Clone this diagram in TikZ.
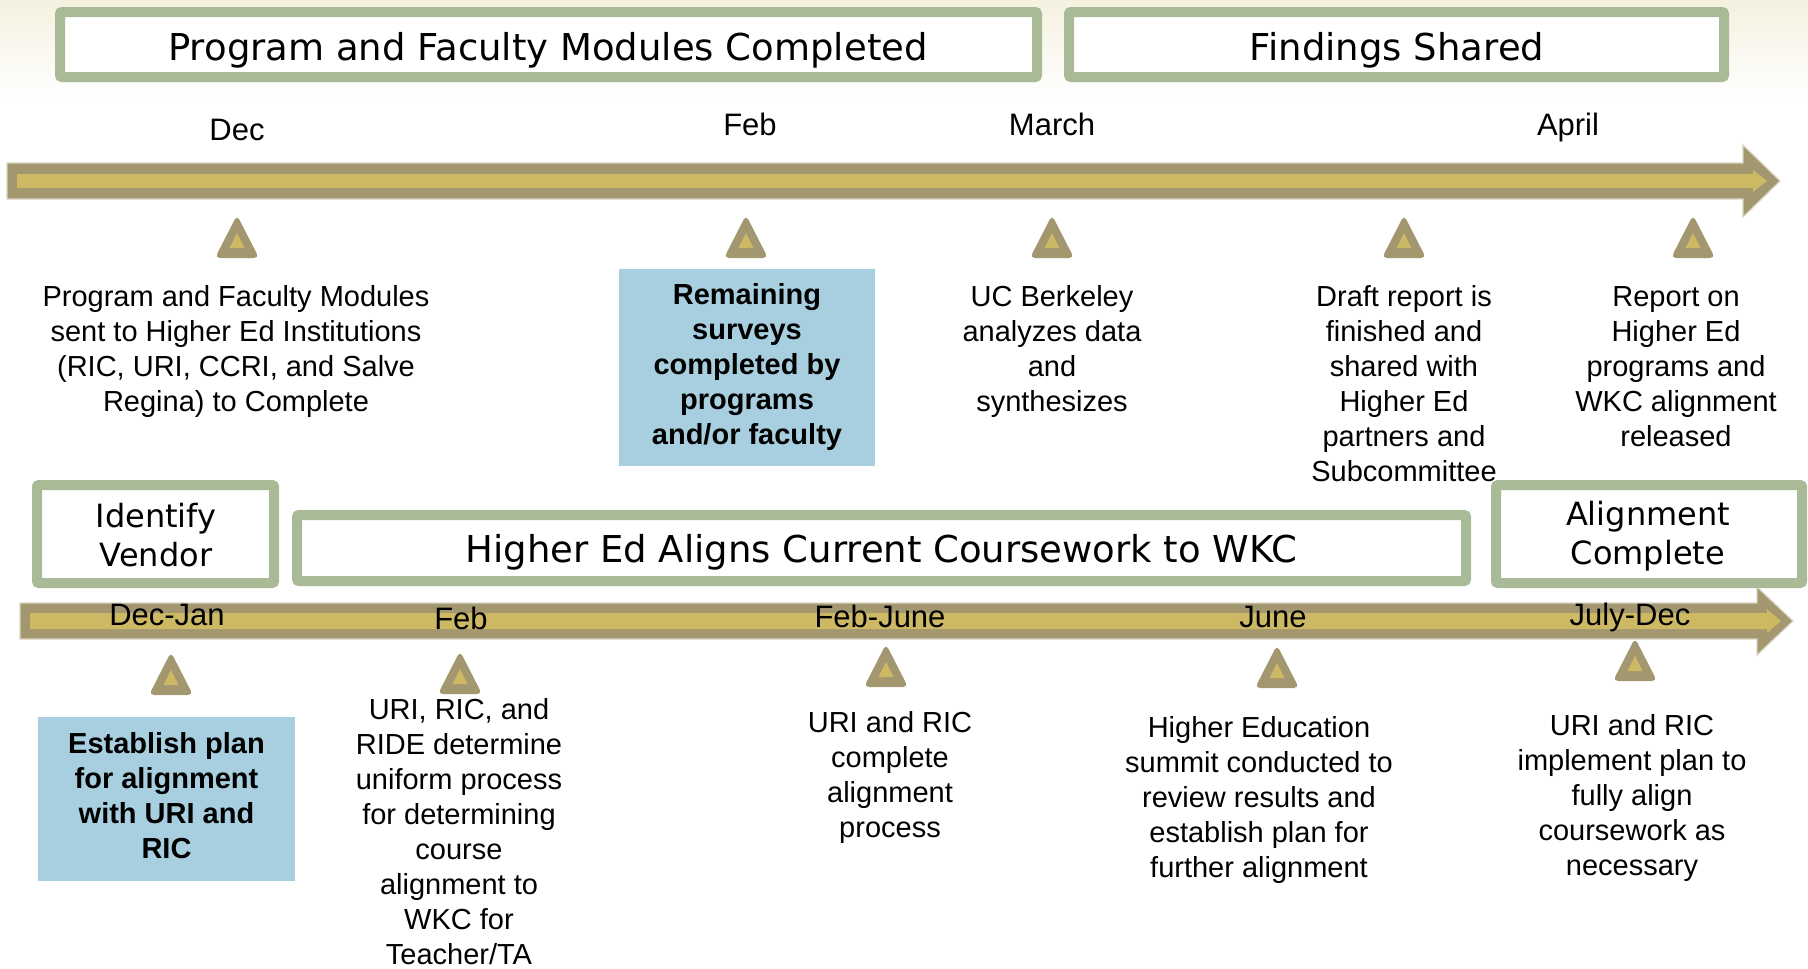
\documentclass[tikz,border=0pt]{standalone}
\usepackage{fontspec}
\setmainfont{Liberation Sans}
\newfontfamily\titlefont{DejaVu Sans}
\definecolor{boxgreen}{RGB}{169,186,151}
\definecolor{arrowdark}{RGB}{163,151,112}
\definecolor{arrowlight}{RGB}{205,184,100}
\definecolor{arrowedge}{RGB}{218,213,196}
\definecolor{boxblue}{RGB}{168,207,224}
\definecolor{cream}{RGB}{245,241,224}
\begin{document}
\begin{tikzpicture}[x=1pt,y=-1pt,
  gbox/.style={draw=boxgreen, line width=10pt, fill=white, rounded corners=2pt, inner sep=0pt},
  bluebox/.style={fill=boxblue, inner sep=0pt, align=center, font=\bfseries\fontsize{29}{35}\selectfont},
  title/.style={font=\titlefont\fontsize{37}{44}\selectfont, anchor=base, inner sep=0pt},
  subtitle/.style={font=\titlefont\fontsize{32}{39}\selectfont, align=center, anchor=north, inner sep=0pt},
  month/.style={font=\fontsize{31}{37}\selectfont, anchor=base, inner sep=0pt},
  body/.style={font=\fontsize{29}{35}\selectfont, align=center, anchor=north, inner sep=0pt},
  tmark/.pic={
    \fill[arrowdark, rounded corners=5pt] (0,-1) -- (22,42) -- (-22,42) -- cycle;
    \fill[arrowlight] (0,17) -- (7.5,32) -- (-7.5,32) -- cycle;
  }]
\useasboundingbox (0,0) rectangle (1808,969);
\fill[white] (0,0) rectangle (1808,969);
\shade[top color=cream, bottom color=white] (0,0) rectangle (1808,100);

% top timeline arrow
\fill[arrowdark, draw=arrowedge, line width=1.2pt] (7,163) -- (1743,163) -- (1743,145) -- (1780,181) -- (1743,217) -- (1743,199) -- (7,199) -- cycle;
\fill[arrowlight] (17,174) -- (1753,174) -- (1753,170) -- (1767,181) -- (1753,192) -- (1753,188) -- (17,188) -- cycle;

% bottom timeline arrow
\fill[arrowdark, draw=arrowedge, line width=1.2pt] (20,603) -- (1757,603) -- (1757,587) -- (1793,621) -- (1757,655) -- (1757,639) -- (20,639) -- cycle;
\fill[arrowlight] (30,613) -- (1767,613) -- (1767,609) -- (1781,621) -- (1767,633) -- (1767,629) -- (30,629) -- cycle;

% markers
\pic (m1) at (237,216) {tmark};
\pic (m2) at (746,216) {tmark};
\pic (m3) at (1052,216) {tmark};
\pic (m4) at (1404,216) {tmark};
\pic (m5) at (1693,216) {tmark};
\pic (n1) at (171,653) {tmark};
\pic (n2) at (460,652) {tmark};
\pic (n3) at (886,645) {tmark};
\pic (n4) at (1277,646) {tmark};
\pic (n5) at (1635,639) {tmark};

% phase boxes
\node[gbox, minimum width=977pt, minimum height=65pt] (boxmod) at (548.5,44.5) {};
\node[title] (tmod) at (548,60) {Program and Faculty Modules Completed};
\node[gbox, minimum width=655pt, minimum height=65pt] (boxfind) at (1396.5,44.5) {};
\node[title] (tfind) at (1397,60) {Findings Shared};
\node[gbox, minimum width=237pt, minimum height=98pt] (boxvendor) at (155.5,534) {};
\node[subtitle] (tvendor) at (156,499.7) {\strut Identify\\Vendor};
\node[gbox, minimum width=1169pt, minimum height=66pt] (boxalign) at (881.5,548) {};
\node[title] (talign) at (881.5,562) {Higher Ed Aligns Current Coursework to WKC};
\node[gbox, minimum width=306pt, minimum height=98pt] (boxdone) at (1649,534) {};
\node[subtitle] (tdone) at (1648,497.7) {\strut Alignment\\Complete};

% month labels
\node[month] (dec) at (237,140) {Dec};
\node[month] (feb) at (750,135) {Feb};
\node[month] (mar) at (1052,135) {March};
\node[month] (apr) at (1568,135) {April};
\node[month] (decjan) at (167,625) {Dec-Jan};
\node[month] (feb2) at (461,629) {Feb};
\node[month] (febjune) at (880,627) {Feb-June};
\node[month] (june) at (1273,627) {June};
\node[month] (julydec) at (1630,625) {July-Dec};

% top descriptions
\node[body] (dprog) at (236,281.5) {\strut Program and Faculty Modules\\sent to Higher Ed Institutions\\(RIC, URI, CCRI, and Salve\\Regina) to Complete};
\node[bluebox, minimum width=256pt, minimum height=197pt] (remain) at (747,367.5) {\strut Remaining\\surveys\\completed by\\programs\\and/or faculty\strut};
\node[body] (ducb) at (1052,281.5) {\strut UC Berkeley\\analyzes data\\and\\synthesizes};
\node[body] (ddraft) at (1404,281.5) {\strut Draft report is\\finished and\\shared with\\Higher Ed\\partners and\\Subcommittee};
\node[body] (dreport) at (1676,281.5) {\strut Report on\\Higher Ed\\programs and\\WKC alignment\\released};

% bottom descriptions
\node[bluebox, minimum width=257pt, minimum height=164pt] (establish) at (166.5,799) {\strut Establish plan\\for alignment\\with URI and\\RIC\strut};
\node[body] (duri) at (459,694.5) {\strut URI, RIC, and\\RIDE determine\\uniform process\\for determining\\course\\alignment to\\WKC for\\Teacher/TA};
\node[body] (dcomplete) at (890,707.5) {\strut URI and RIC\\complete\\alignment\\process};
\node[body] (dsummit) at (1259,712.5) {\strut Higher Education\\summit conducted to\\review results and\\establish plan for\\further alignment};
\node[body] (dimpl) at (1632,710.5) {\strut URI and RIC\\implement plan to\\fully align\\coursework as\\necessary};
\end{tikzpicture}
\end{document}
